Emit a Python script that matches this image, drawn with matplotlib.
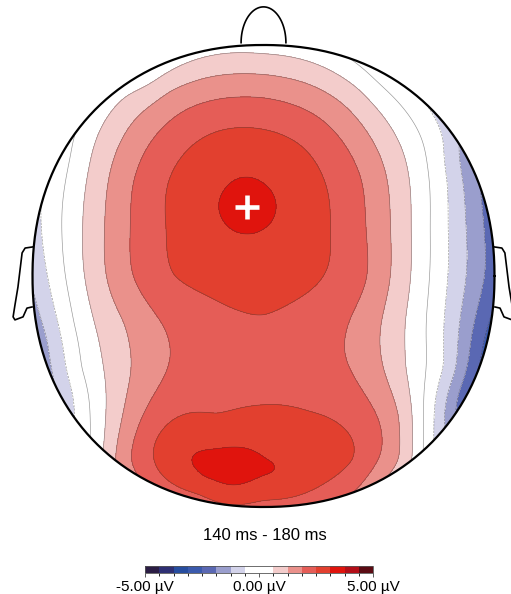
import numpy as np
import matplotlib
matplotlib.use("Agg")
import matplotlib.pyplot as plt
from matplotlib.colors import ListedColormap, BoundaryNorm
from matplotlib.path import Path
from matplotlib.patches import PathPatch
import matplotlib.cm as cm

plt.rcParams['font.family'] = ['Liberation Sans', 'DejaVu Sans']

# ---------------- data ----------------
title = "140 ms - 180 ms"
vmin, vmax, n_levels = -5.0, 5.0, 16
level_colors = ['#2b1d44', '#2e2f73', '#274d9f', '#3b5aad', '#5a68b3', '#9a9ecd',
                '#d3d3ea', '#ffffff', '#ffffff', '#f3cccb', '#ea918b', '#e55d57',
                '#e2402f', '#e0140d', '#b30e18', '#5b0b13']
cbar_ticks = [-5.0, 0.0, 5.0]
cbar_ticklabels = ["-5.00 µV", "0.00 µV", "5.00 µV"]

# interior sample sites (normalised head coordinates) and potentials (µV)
site_x = [-0.6, -0.4, -0.2, 0.0, 0.2, 0.4, 0.6,
          -0.8, -0.6, -0.4, -0.2, 0.0, 0.2, 0.4, 0.6, 0.8,
          -0.8, -0.6, -0.4, -0.2, 0.0, 0.2, 0.4, 0.6, 0.8,
          -0.8, -0.6, -0.4, -0.2, 0.0, 0.2, 0.4, 0.6, 0.8,
          -0.8, -0.6, -0.4, -0.2, 0.0, 0.2, 0.4, 0.6, 0.8,
          -0.8, -0.6, -0.4, -0.2, 0.0, 0.2, 0.4, 0.6, 0.8,
          -0.8, -0.6, -0.4, -0.2, 0.0, 0.2, 0.4, 0.6, 0.8,
          -0.8, -0.6, -0.4, -0.2, 0.0, 0.2, 0.4, 0.6, 0.8,
          -0.6, -0.4, -0.2, 0.0, 0.2, 0.4, 0.6,
          -0.071, -0.13, -0.25, 0.05, -0.13]
site_y = [0.8] * 7 + [0.6] * 9 + [0.4] * 9 + [0.2] * 9 + [0.0] * 9 + \
         [-0.2] * 9 + [-0.4] * 9 + [-0.6] * 9 + [-0.8] * 7 + \
         [0.299, -0.845, -0.85, -0.86, -0.905]
site_v = [0.53, 1.30, 1.68, 1.72, 1.42, 0.75, -0.32,
          0.15, 1.29, 2.14, 2.59, 2.62, 2.31, 1.56, 0.48, -0.75,
          0.40, 1.70, 2.55, 3.01, 3.11, 2.69, 2.02, 0.85, -0.64,
          0.50, 1.75, 2.55, 3.01, 3.11, 2.72, 2.08, 0.90, -0.64,
          0.45, 1.72, 2.50, 2.65, 2.68, 2.60, 2.15, 0.90, -0.65,
          0.20, 1.25, 1.98, 2.38, 2.48, 2.28, 1.75, 0.70, -0.79,
          -0.05, 1.10, 1.92, 2.20, 2.30, 2.15, 1.80, 0.70, -0.75,
          -0.45, 1.32, 2.40, 2.46, 2.60, 2.52, 2.20, 1.15, -1.50,
          1.75, 2.95, 3.15, 3.08, 2.85, 2.50, 1.20,
          3.40, 3.46, 3.32, 3.20, 3.16]

# sites on the head outline: angle (deg) and potential
edge_angle = [90, 60, 30, 15, 0, -15, -30, -45, -60, -75, -90, -105, -120,
              -135, -150, -165, 180, 165, 150, 120]
edge_v = [0.35, -0.4, -1.6, -2.05, -2.2, -2.7, -2.4, -0.5, 1.2, 2.1, 2.2, 2.2,
          1.9, 0.2, -1.15, -1.6, -1.15, -0.65, -0.3, 0.1]

marker_xy = (-0.071, 0.299)

# ---------------- geometry ----------------
HEAD_N = 2.15  # superellipse exponent of the drawn head
SMOOTH = 0.01


def head_xy(theta):
    c, s = np.cos(theta), np.sin(theta)
    return (np.sign(c) * np.abs(c) ** (2 / HEAD_N),
            np.sign(s) * np.abs(s) ** (2 / HEAD_N))


ea = np.deg2rad(np.array(edge_angle, float))
ex, ey = head_xy(ea)
X = np.concatenate([np.array(site_x, float), ex])
Y = np.concatenate([np.array(site_y, float), ey])
V = np.concatenate([np.array(site_v, float), np.array(edge_v, float)])


def tps_kernel(r):
    with np.errstate(divide='ignore', invalid='ignore'):
        k = r ** 2 * np.log(r)
    return np.where(r > 0, k, 0.0)


n = len(X)
R = np.hypot(X[:, None] - X[None, :], Y[:, None] - Y[None, :])
K = tps_kernel(R) + SMOOTH * np.eye(n)
P = np.c_[np.ones(n), X, Y]
A = np.zeros((n + 3, n + 3))
A[:n, :n] = K
A[:n, n:] = P
A[n:, :n] = P.T
b = np.concatenate([V, np.zeros(3)])
sol = np.linalg.solve(A, b)
w, a = sol[:n], sol[n:]

gx = np.linspace(-1.12, 1.12, 300)
gy = np.linspace(-1.12, 1.12, 300)
GX, GY = np.meshgrid(gx, gy)
Rg = np.hypot(GX[..., None] - X, GY[..., None] - Y)
Z = tps_kernel(Rg) @ w + a[0] + a[1] * GX + a[2] * GY

# ---------------- figure ----------------
W, H = 511, 594
fig = plt.figure(figsize=(W / 100, H / 100), dpi=100)
cx, cy, scale = 263.5, 276.0, 231.0
ax_bottom_px = 520.0
ax = fig.add_axes([0, (H - ax_bottom_px) / H, 1, ax_bottom_px / H])
ax.set_xlim((0 - cx) / scale, (W - cx) / scale)
ax.set_ylim((cy - ax_bottom_px) / scale, cy / scale)
ax.set_aspect('auto')
ax.axis('off')

levels = np.linspace(vmin, vmax, n_levels + 1)
cmap = ListedColormap(level_colors)
norm = BoundaryNorm(levels, n_levels)

t = np.linspace(0, 2 * np.pi, 721)
hx, hy = head_xy(t)
head_path = Path(np.c_[hx, hy])
clip = PathPatch(head_path, transform=ax.transData, facecolor='none', edgecolor='none')
ax.add_patch(clip)

cf = ax.contourf(GX, GY, np.clip(Z, vmin + 0.01, vmax - 0.01), levels=levels,
                 cmap=cmap, norm=norm)
cf.set_clip_path(clip)
cl = ax.contour(GX, GY, Z, levels=levels, colors='#3a3a3a', linewidths=0.45, alpha=0.55)
cl.set_clip_path(clip)

# head outline, nose, ears
ax.plot(hx, hy, color='black', lw=1.6, solid_capstyle='round')
s = np.linspace(-np.pi / 2, np.pi / 2, 100)
ax.plot(0.097 * np.sin(s), 1.01 + 0.155 * np.cos(s), color='black', lw=1.2)
ear_x = np.array([-0.998, -1.032, -1.045, -1.054, -1.063, -1.076, -1.084, -1.076,
                  -1.041, -1.024, -1.002])
ear_y = np.array([0.126, 0.121, 0.100, 0.026, -0.048, -0.126, -0.177, -0.190,
                  -0.177, -0.139, -0.134])
ax.plot(ear_x, ear_y, color='black', lw=1.2, solid_joinstyle='round')
ax.plot(-ear_x, ear_y, color='black', lw=1.2, solid_joinstyle='round')

ax.plot([marker_xy[0]], [marker_xy[1]], marker='+', color='white', ms=17.5, mew=3.3)

fig.text(265 / W, 1 - 536 / H, title, ha='center', va='center', fontsize=12)

cax = fig.add_axes([145 / W, 1 - 573 / H, 228 / W, 7 / H])
sm = cm.ScalarMappable(norm=norm, cmap=cmap)
cb = fig.colorbar(sm, cax=cax, orientation='horizontal', ticks=cbar_ticks)
cb.ax.set_xticklabels(cbar_ticklabels, fontsize=11)
cb.ax.tick_params(length=3, width=0.6, pad=2, color='#444444')
cb.outline.set_linewidth(0.6)
cb.outline.set_edgecolor('#555555')

fig.savefig('out.png', dpi=100)
